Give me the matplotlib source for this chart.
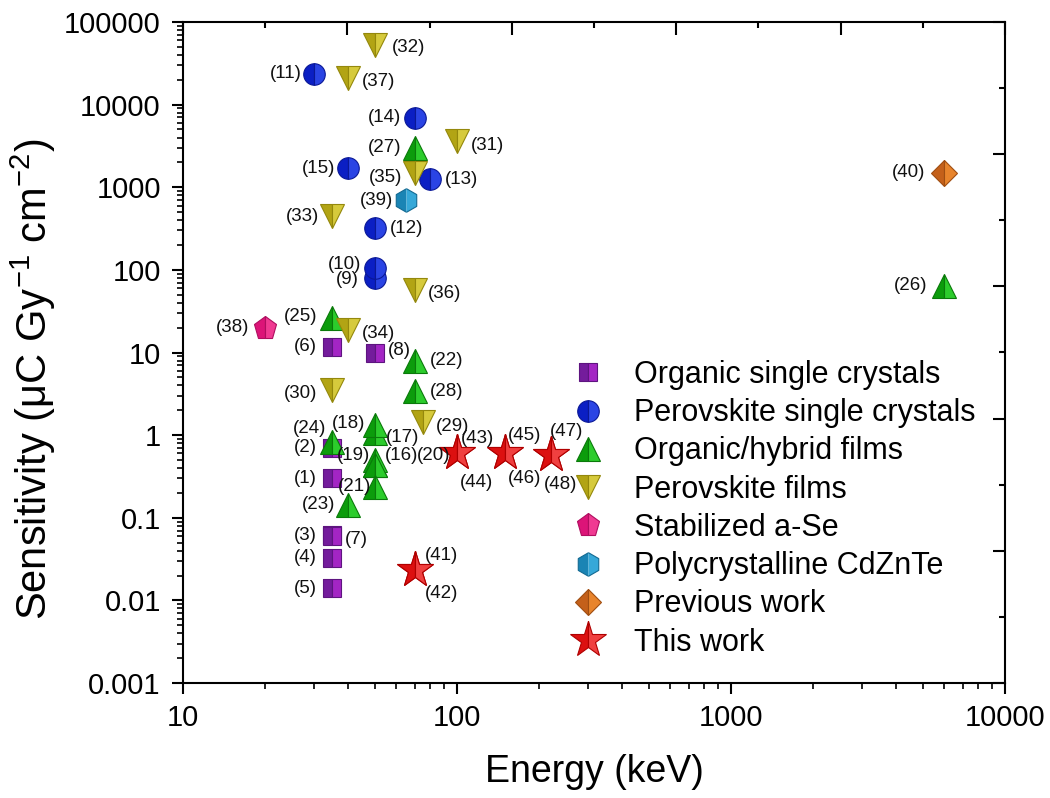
import numpy as np
import matplotlib
matplotlib.use('Agg')
import matplotlib.pyplot as plt
from matplotlib.lines import Line2D
from matplotlib.ticker import LogLocator, NullFormatter, FixedLocator

plt.rcParams['font.family'] = ['Liberation Sans', 'DejaVu Sans']
plt.rcParams['mathtext.fontset'] = 'custom'
plt.rcParams['mathtext.rm'] = 'Liberation Sans'
plt.rcParams['mathtext.it'] = 'Liberation Sans:italic'

# reference number, energy (keV), sensitivity (uC Gy-1 cm-2)
organic_sc_refs = [1, 2, 3, 4, 5, 6, 7, 8]
organic_sc_energy = [35, 35, 35, 35, 35, 35, 35, 50]
organic_sc_sens = [0.30, 0.70, 0.062, 0.033, 0.014, 11.7, 0.060, 10]

perov_sc_refs = [9, 10, 11, 12, 13, 14, 15]
perov_sc_energy = [50, 50, 30, 50, 80, 70, 40]
perov_sc_sens = [80, 105, 23500, 320, 1250, 6900, 1700]

hybrid_refs = [16, 17, 18, 19, 20, 21, 22, 23, 24, 25, 26, 27, 28]
hybrid_energy = [50, 50, 50, 50, 50, 50, 70, 40, 35, 35, 6000, 70, 70]
hybrid_sens = [0.44, 1.06, 1.32, 0.50, 0.44, 0.234, 7.9, 0.142, 0.82, 26, 64, 3000, 3.4]

perov_film_refs = [29, 30, 31, 32, 33, 34, 35, 36, 37]
perov_film_energy = [75, 35, 100, 50, 35, 40, 70, 70, 40]
perov_film_sens = [1.45, 3.5, 3600, 52000, 450, 18.7, 1500, 57, 21000]

ase_refs = [38]
ase_energy = [20]
ase_sens = [20]

czt_refs = [39]
czt_energy = [65]
czt_sens = [700]

prev_refs = [40]
prev_energy = [6000]
prev_sens = [1500]

this_refs = [41, 42, 43, 44, 45, 46, 47, 48]
this_energy = [70, 70, 100, 100, 150, 150, 220, 220]
this_sens = [0.023, 0.023, 0.60, 0.60, 0.60, 0.60, 0.58, 0.58]

# where each "(n)" tag sits next to its marker: dx, dy in pixels, alignment
tag_pos = {
    1: (-15, 0, 'right'), 2: (-15, 0, 'right'), 3: (-15, -1, 'right'),
    4: (-15, 0, 'right'), 5: (-15, 0, 'right'), 6: (-15, 0, 'right'),
    7: (13, -3, 'left'), 8: (13, 2, 'left'),
    9: (-16, -2, 'right'), 10: (-13, 4, 'right'), 11: (-12, 0, 'right'),
    12: (15, 0, 'left'), 13: (14, 0, 'left'), 14: (-13, 0, 'right'),
    15: (-13, 0, 'right'),
    16: (10, 9, 'left'), 17: (11, -4, 'left'), 18: (-9, 2, 'right'),
    19: (-4, 4, 'right'), 20: (42, 9, 'left'), 21: (-3, 1, 'right'),
    22: (15, 0, 'left'), 23: (-13, 1, 'right'), 24: (-6, 14, 'right'),
    25: (-15, 2, 'right'), 26: (-17, 0, 'right'), 27: (-13, 0, 'right'),
    28: (15, 0, 'left'),
    29: (13, -5, 'left'), 30: (-15, -3, 'right'), 31: (14, -4, 'left'),
    32: (17, -2, 'left'), 33: (-13, -1, 'right'), 34: (14, -3, 'left'),
    35: (-12, -5, 'right'), 36: (13, -3, 'left'), 37: (14, -3, 'left'),
    38: (-16, 0, 'right'), 39: (-13, 0, 'right'), 40: (-19, 0, 'right'),
    41: (10, 15, 'left'), 42: (10, -23, 'left'), 43: (4, 15, 'left'),
    44: (3, -29, 'left'), 45: (3, 18, 'left'), 46: (3, -25, 'left'),
    47: (-1, 23, 'left'), 48: (-7, -30, 'left'),
}

groups = [
    # label, refs, x, y, marker, size, left colour, right colour, edge
    ('Organic single crystals', organic_sc_refs, organic_sc_energy, organic_sc_sens,
     's', 13.5, '#741c9c', '#a325c4', '#5e1480'),
    ('Perovskite single crystals', perov_sc_refs, perov_sc_energy, perov_sc_sens,
     'o', 15.5, '#0b1fc4', '#2a44e4', '#0a1896'),
    ('Organic/hybrid films', hybrid_refs, hybrid_energy, hybrid_sens,
     '^', 17, '#0c9c0c', '#2ccc2c', '#0a7a0a'),
    ('Perovskite films', perov_film_refs, perov_film_energy, perov_film_sens,
     'v', 17, '#b2a414', '#d6ca3c', '#94880c'),
    ('Stabilized a-Se', ase_refs, ase_energy, ase_sens,
     'p', 17, '#dc1478', '#f03a92', '#b00e60'),
    ('Polycrystalline CdZnTe', czt_refs, czt_energy, czt_sens,
     'h', 17, '#1a84b4', '#36a8d8', '#136a92'),
    ('Previous work', prev_refs, prev_energy, prev_sens,
     'D', 13.5, '#c4601a', '#e8842c', '#a04e12'),
    ('This work', this_refs, this_energy, this_sens,
     '*', 27, '#dc1010', '#f04040', '#b00000'),
]

# drawing order so overlapping symbols stack the same way
draw_order = [0, 2, 3, 1, 4, 5, 6, 7]

fig = plt.figure(figsize=(10.5, 7.98), dpi=100)
ax = fig.add_axes([183 / 1050, 1 - 683 / 798, 822 / 1050, 661 / 798])

for gi in draw_order:
    label, refs, xs, ys, mk, ms, c1, c2, ec = groups[gi]
    ax.plot(xs, ys, linestyle='none', marker=mk, markersize=ms,
            fillstyle='left', markerfacecolor=c1, markerfacecoloralt=c2,
            markeredgecolor=ec, markeredgewidth=0.8, zorder=3 + gi, label=label)
    for r, x, y in zip(refs, xs, ys):
        dx, dy, ha = tag_pos[r]
        ax.annotate('(%d)' % r, (x, y), xytext=(dx, dy), textcoords='offset pixels',
                    ha=ha, va='center', fontsize=13.5, color='#111111', zorder=20)

ax.set_xscale('log')
ax.set_yscale('log')
ax.set_xlim(10, 10000)
ax.set_ylim(0.001, 100000)

ax.set_xticks([10, 100, 1000, 10000])
ax.set_xticklabels(['10', '100', '1000', '10000'])
ax.set_yticks([0.001, 0.01, 0.1, 1, 10, 100, 1000, 10000, 100000])
ax.set_yticklabels(['0.001', '0.01', '0.1', '1', '10', '100', '1000', '10000', '100000'])
ax.xaxis.set_minor_locator(LogLocator(base=10, subs=np.arange(2, 10), numticks=50))
ax.yaxis.set_minor_locator(LogLocator(base=10, subs=np.arange(2, 10), numticks=50))
ax.xaxis.set_minor_formatter(NullFormatter())
ax.yaxis.set_minor_formatter(NullFormatter())

ax.tick_params(which='major', direction='out', length=8, width=1.5,
               labelsize=21, top=False, right=False)
ax.tick_params(axis='x', which='major', pad=7)
ax.tick_params(axis='y', which='major', pad=8)
ax.tick_params(which='minor', direction='out', length=4.5, width=1.2,
               top=False, right=False)
for sp in ax.spines.values():
    sp.set_linewidth(1.5)

ax.set_xlabel('Energy (keV)', fontsize=27, labelpad=16)
ax.set_ylabel('Sensitivity (\u03bcC Gy$^{-1}$ cm$^{-2}$)', fontsize=30)
ax.yaxis.set_label_coords(-0.152, 0.46)

# plain linear ticks along the top and right frame
frame = fig.add_axes(ax.get_position(), frameon=False, zorder=5)
frame.set_xlim(0, 10)
frame.set_ylim(0, 10)
frame.xaxis.tick_top()
frame.yaxis.tick_right()
frame.xaxis.set_major_locator(FixedLocator([0, 2, 4, 6, 8, 10]))
frame.xaxis.set_minor_locator(FixedLocator([1, 3, 5, 7, 9]))
frame.yaxis.set_major_locator(FixedLocator([0, 2, 4, 6, 8, 10]))
frame.yaxis.set_minor_locator(FixedLocator([1, 3, 5, 7, 9]))
frame.tick_params(which='major', direction='in', length=9, width=1.5,
                  labeltop=False, labelright=False)
frame.tick_params(which='minor', direction='in', length=4.5, width=1.5)
frame.patch.set_visible(False)

leg_handles = [Line2D([], [], linestyle='none', marker=g[4], markersize=g[5],
                      fillstyle='left', markerfacecolor=g[6], markerfacecoloralt=g[7],
                      markeredgecolor=g[8], markeredgewidth=0.8) for g in groups]
leg = ax.legend(leg_handles, [g[0] for g in groups], loc='upper left',
                bbox_to_anchor=(570 / 1050, 1 - 360 / 798), bbox_transform=fig.transFigure,
                frameon=False, fontsize=22, handlelength=1.2, handletextpad=0.9,
                labelspacing=0.27, borderpad=0, borderaxespad=0)
leg.set_zorder(30)

fig.savefig('out.png', dpi=100)
